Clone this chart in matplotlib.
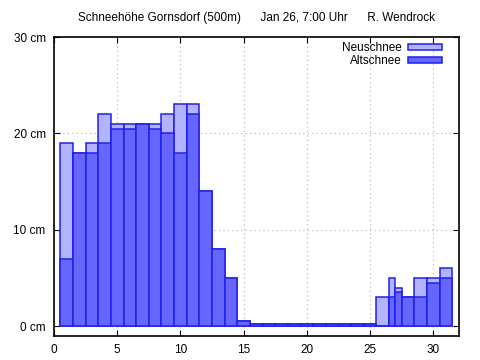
import numpy as np
import matplotlib.pyplot as plt

plt.rcParams['font.family'] = ['Liberation Sans', 'DejaVu Sans']

# Tage (Tag 27 mit zwei Messungen)
tage = [1, 2, 3, 4, 5, 6, 7, 8, 9, 10, 11, 12, 13, 14, 15, 16, 17, 18, 19, 20,
        21, 22, 23, 24, 25, 26, 26.75, 27.25, 28, 29, 30, 31]
breite = [1] * 26 + [0.5, 0.5] + [1] * 4
# Gesamthoehe inkl. Neuschnee (cm)
neuschnee = [19, 18, 19, 22, 21, 21, 21, 21, 22, 23, 23, 14, 8, 5, 0.5,
             0.2, 0.2, 0.2, 0.2, 0.2, 0.2, 0.2, 0.2, 0.2, 0.2,
             3, 5, 4, 3, 5, 5, 6]
# Altschnee (cm)
altschnee = [7, 18, 18, 19, 20.5, 20.5, 21, 20.5, 20, 18, 22, 14, 8, 5, 0.5,
             0.2, 0.2, 0.2, 0.2, 0.2, 0.2, 0.2, 0.2, 0.2, 0.2,
             0, 3, 3.5, 3, 3, 4.5, 5]

fig = plt.figure(figsize=(4.8, 3.6), dpi=100)
ax = fig.add_axes([0.1125, 0.0675, 0.843, 0.8297])

rand = '#2020ee'
ax.bar(tage, neuschnee, width=breite, color='#b3b3ff', edgecolor=rand,
       linewidth=1.1, label='Neuschnee', zorder=2)
ax.bar(tage, altschnee, width=breite, color='#6666ff', edgecolor=rand,
       linewidth=1.1, label='Altschnee', zorder=3)

ax.set_xlim(0, 32)
ax.set_ylim(-1, 30)
ax.set_xticks(range(0, 31, 5))
ax.set_yticks([0, 10, 20, 30])
ax.set_yticklabels(['0 cm', '10 cm', '20 cm', '30 cm'])
ax.tick_params(direction='in', length=4, width=0.8, labelsize=8.5,
               top=True, right=True, pad=6)
ax.grid(True, linestyle=(0, (1, 3)), color='#b0b0b0', linewidth=0.8, zorder=0)
ax.set_axisbelow(True)
for s in ax.spines.values():
    s.set_linewidth(1.2)
    s.set_zorder(5)

ax.legend(loc='upper right', bbox_to_anchor=(0.965, 0.99), frameon=False,
          fontsize=8.5, handlelength=2.9, handleheight=0.45, labelspacing=0.05,
          markerfirst=False, borderaxespad=0.0, borderpad=0.2,
          handletextpad=0.5)

fig.text(0.535, 0.95, 'Schneehöhe Gornsdorf (500m)      Jan 26, 7:00 Uhr      R. Wendrock',
         ha='center', va='center', fontsize=8.5)

plt.savefig('out.png', dpi=100)
